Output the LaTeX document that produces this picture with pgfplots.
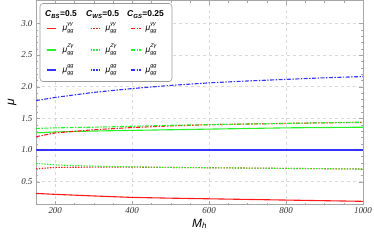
\documentclass[border=0pt]{standalone}
\usepackage{fontspec}
\setmainfont{Liberation Serif}
\setsansfont{Liberation Sans}
\usepackage{pgfplots}
\pgfplotsset{compat=1.18}
\definecolor{mred}{rgb}{1,0.1,0.1}
\definecolor{mgreen}{rgb}{0.15,0.95,0.15}
\definecolor{mblue}{rgb}{0.2,0.2,1}
\tikzset{
  sol/.style={line width=1.1bp},
  dotm/.style={line width=1.1bp, dash pattern=on 1.4bp off 1.4bp},
  dadm/.style={line width=1.1bp, dash pattern=on 4bp off 1.5bp on 1.4bp off 1.5bp},
  lgt/.style={anchor=west, inner sep=0pt, font=\sffamily\fontsize{8.5}{10}\selectfont},
  lgh/.style={anchor=base west, inner sep=0pt, font=\sffamily\fontsize{8.5}{10}\selectfont},
}
\newcommand{\mug}[1]{\textit{μ}\makebox[0pt][l]{\raisebox{1.1ex}{\fontsize{5.5}{6}\selectfont\itshape #1}}\raisebox{-0.45ex}{\fontsize{5.5}{6}\selectfont\itshape gg}}
\newcommand{\hdr}[2]{\textbf{\textit{C}\textsubscript{\textit{#1}}=#2}}
\begin{document}
\begin{tikzpicture}
\useasboundingbox (-36bp,-36bp) rectangle (338bp,204.5bp);
\begin{axis}[
 scale only axis, width=327bp, height=204bp,
 at={(0,0)}, anchor=south west,
 xmin=150, xmax=1000, ymin=0.14, ymax=3.36,
 xtick={200,400,...,1000}, ytick={0.5,1.0,...,3.0},
 minor x tick num=3, minor y tick num=4,
 grid=major, major grid style={dashed, gray!30},
 axis line style={gray!70}, tick style={gray!70}, tick align=inside,
 major tick length=4bp, minor tick length=2bp,
 yticklabel style={/pgf/number format/.cd, fixed, fixed zerofill, precision=1},
 xticklabel style={/pgf/number format/.cd, fixed, 1000 sep={}},
 tick label style={font=\fontsize{9}{10}\selectfont\itshape, text=black!80},
 /pgf/number format/assume math mode=true,
 xlabel={\textsf{\itshape M\textsubscript{h}}},
 ylabel={\textsf{\itshape μ}},
 label style={font=\fontsize{12}{13}\selectfont},
 xlabel style={yshift=2bp},
 ylabel style={yshift=-2bp},
]
% C_BS
\addplot[mred, sol] coordinates {(150,0.315) (200,0.30) (300,0.275) (400,0.252) (500,0.24) (600,0.23) (700,0.22) (800,0.21) (900,0.20) (1000,0.19)};
\addplot[mgreen, sol] coordinates {(150,1.27) (200,1.285) (300,1.30) (400,1.31) (500,1.32) (600,1.33) (700,1.34) (800,1.35) (900,1.355) (1000,1.36)};
\addplot[mblue, sol] coordinates {(150,1.0) (1000,1.0)};
% C_WS
\addplot[mred, dotm] coordinates {(150,0.705) (200,0.725) (300,0.73) (400,0.73) (500,0.725) (600,0.72) (700,0.715) (800,0.71) (900,0.705) (1000,0.70)};
\addplot[mgreen, dotm] coordinates {(150,0.79) (200,0.765) (300,0.745) (400,0.735) (500,0.725) (600,0.72) (700,0.715) (800,0.71) (900,0.705) (1000,0.70)};
\addplot[mblue, dotm] coordinates {(150,1.0) (1000,1.0)};
% C_GS
\addplot[mred, dadm] coordinates {(150,1.21) (200,1.27) (300,1.32) (400,1.355) (500,1.38) (600,1.40) (700,1.41) (800,1.42) (900,1.43) (1000,1.435)};
\addplot[mgreen, dadm] coordinates {(150,1.34) (200,1.35) (300,1.36) (400,1.375) (500,1.39) (600,1.40) (700,1.41) (800,1.42) (900,1.43) (1000,1.44)};
\addplot[mblue, dadm] coordinates {(150,1.78) (200,1.83) (300,1.91) (400,1.97) (500,2.02) (600,2.06) (700,2.09) (800,2.115) (900,2.14) (1000,2.16)};
\end{axis}
% legend (the axis box spans (0,0)--(327bp,204bp))
\draw[draw=gray!80, fill=white, rounded corners=3bp, line width=0.6bp] (4bp,123bp) rectangle (136bp,201bp);
\node[lgh] at (9bp,187.5bp) {\hdr{BS}{0.5}};
\node[lgh] at (50bp,187.5bp) {\hdr{WS}{0.5}};
\node[lgh] at (91bp,187.5bp) {\hdr{GS}{0.25}};
\foreach \yy/\ss in {176/γγ, 154.5/Zγ, 134.5/gg}{
  \node[lgt] at (26.5bp,\yy bp) {\mug{\ss}};
  \node[lgt] at (69.5bp,\yy bp) {\mug{\ss}};
  \node[lgt] at (109.5bp,\yy bp) {\mug{\ss}};
}
\foreach \yy/\cc in {176/mred, 154.5/mgreen, 134.5/mblue}{
  \draw[\cc, sol]  (10.5bp,\yy bp) -- (19.5bp,\yy bp);
  \draw[\cc, dotm] (54.5bp,\yy bp) -- (63.5bp,\yy bp);
  \draw[\cc, dadm] (95bp,\yy bp) -- (104.5bp,\yy bp);
}
\end{tikzpicture}
\end{document}
